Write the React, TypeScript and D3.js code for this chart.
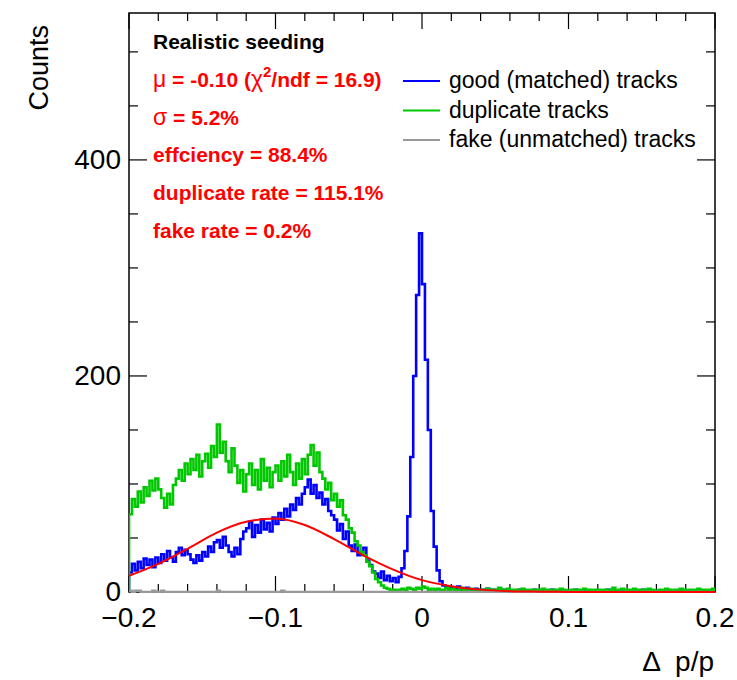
import React, { useEffect, useRef } from 'react';
import * as d3 from 'd3';

// histogram: 200 bins from -0.2 to 0.2
const xMin = -0.2;
const xMax = 0.2;
const nBins = 200;

const goodTracks = [
  18, 26, 20, 28, 22, 31, 25, 30, 23, 32,
  27, 35, 29, 38, 32, 28, 37, 41, 34, 39,
  35, 30, 27, 34, 29, 37, 33, 42, 37, 46,
  48, 41, 51, 43, 37, 33, 41, 35, 49, 56,
  59, 65, 51, 62, 55, 67, 58, 64, 56, 69,
  63, 73, 67, 77, 70, 81, 76, 87, 81, 91,
  97, 104, 91, 99, 87, 92, 81, 86, 75, 71,
  67, 57, 63, 49, 56, 43, 38, 44, 34, 37,
  41, 29, 25, 19, 17, 13, 19, 11, 15, 10,
  13, 9, 14, 22, 38, 70, 125, 200, 275, 332,
  285, 215, 150, 75, 42, 20, 10, 6, 5, 3,
  4, 3, 5, 2, 3, 4, 2, 1, 3, 2,
  1, 2, 3, 1, 2, 1, 0, 2, 1, 2,
  1, 0, 1, 2, 1, 1, 0, 1, 2, 1,
  0, 1, 1, 0, 2, 1, 0, 1, 0, 1,
  1, 0, 2, 1, 0, 1, 1, 0, 1, 0,
  0, 1, 0, 2, 1, 0, 1, 0, 1, 1,
  0, 1, 0, 1, 0, 2, 1, 0, 0, 1,
  1, 0, 1, 0, 1, 0, 0, 1, 2, 0,
  1, 0, 1, 0, 0, 1, 1, 0, 1, 0,
];

const duplicateTracks = [
  72, 86, 79, 93, 83, 97, 89, 103, 94, 105,
  95, 87, 78, 91, 81, 99, 105, 113, 103, 119,
  109, 123, 113, 127, 107, 121, 128, 115, 135, 125,
  155, 129, 139, 121, 111, 133, 117, 101, 113, 93,
  109, 119, 99, 113, 95, 123, 103, 115, 97, 111,
  117, 103, 121, 107, 127, 111, 99, 119, 105, 123,
  109, 127, 136, 117, 129, 111, 105, 95, 101, 85,
  91, 79, 85, 71, 67, 59, 55, 47, 43, 37,
  34, 28, 24, 18, 12, 9, 6, 4, 3, 2,
  2, 1, 2, 3, 2, 4, 3, 2, 4, 3,
  5, 4, 2, 3, 2, 3, 1, 2, 4, 2,
  3, 2, 1, 4, 2, 1, 3, 2, 1, 2,
  2, 1, 3, 2, 1, 2, 4, 2, 1, 3,
  1, 2, 2, 1, 3, 1, 2, 1, 2, 1,
  2, 3, 1, 2, 1, 2, 1, 3, 2, 1,
  1, 2, 1, 2, 1, 3, 1, 2, 1, 2,
  2, 1, 2, 1, 2, 4, 1, 2, 3, 1,
  2, 1, 3, 2, 1, 2, 1, 3, 2, 1,
  1, 2, 1, 3, 2, 1, 2, 1, 3, 2,
  1, 2, 1, 2, 3, 1, 2, 1, 2, 3,
];

const fakeTracks = [
  1, 0, 1, 1, 0, 0, 0, 0, 1, 0,
  0, 1, 0, 0, 0, 0, 0, 0, 0, 0,
  0, 0, 0, 0, 0, 0, 0, 0, 0, 0,
  1, 0, 0, 0, 0, 0, 0, 0, 0, 0,
  0, 0, 0, 0, 0, 0, 0, 0, 0, 0,
  0, 0, 1, 0, 0, 0, 0, 0, 0, 0,
  0, 0, 0, 0, 0, 0, 0, 0, 0, 0,
  0, 0, 0, 0, 0, 0, 0, 0, 0, 0,
  0, 0, 0, 0, 0, 0, 0, 0, 0, 0,
  0, 0, 0, 0, 0, 0, 0, 0, 0, 0,
  0, 0, 0, 0, 0, 0, 0, 0, 0, 0,
  0, 0, 0, 0, 0, 0, 0, 0, 0, 0,
  0, 0, 0, 0, 0, 0, 0, 0, 0, 0,
  0, 0, 0, 0, 0, 0, 0, 0, 0, 0,
  0, 0, 0, 0, 0, 0, 0, 0, 0, 0,
  0, 0, 0, 0, 0, 0, 0, 0, 0, 0,
  0, 0, 0, 0, 0, 0, 0, 0, 0, 0,
  0, 0, 0, 0, 0, 0, 0, 0, 0, 0,
  0, 0, 0, 0, 0, 0, 0, 0, 0, 0,
  0, 0, 0, 0, 0, 0, 0, 0, 0, 0,
];

// gaussian fit curve
const fitX = [-0.2, -0.18, -0.16, -0.14, -0.12, -0.1, -0.08, -0.06, -0.04, -0.02, 0,
  0.02, 0.04, 0.06, 0.08, 0.1, 0.12, 0.14, 0.16, 0.18, 0.2];
const fitY = [15, 26, 40, 55, 65, 68, 62, 49, 34, 21, 11,
  5.4, 2.2, 0.8, 0.3, 0.1, 0, 0, 0, 0, 0];

const xTicks = [-0.2, -0.1, 0, 0.1, 0.2];
const xTickLabels = ['\u22120.2', '\u22120.1', '0', '0.1', '0.2'];
const yTicks = [0, 200, 400];

const statLines = ['σ = 5.2%', 'effciency = 88.4%', 'duplicate rate = 115.1%', 'fake rate = 0.2%'];
const legendLabels = ['good (matched) tracks', 'duplicate tracks', 'fake (unmatched) tracks'];
const legendColors = ['#0000ff', '#00c800', '#999999'];

const W = 737;
const H = 680;
const FONT = '"Liberation Sans", Arial, Helvetica, sans-serif';

export default function App() {
  const ref = useRef<SVGSVGElement>(null);

  useEffect(() => {
    const svg = d3.select(ref.current);
    svg.selectAll('*').remove();

    const left = 129, right = 715, top = 13, bottom = 592;
    const x = d3.scaleLinear().domain([xMin, xMax]).range([left, right]);
    const y = d3.scaleLinear().domain([0, 536]).range([bottom, top]);
    const binW = (xMax - xMin) / nBins;

    svg.append('defs').append('clipPath').attr('id', 'frameClip')
      .append('rect').attr('x', left).attr('y', top - 2).attr('width', right - left).attr('height', bottom - top + 3);

    // frame
    svg.append('rect')
      .attr('x', left).attr('y', top)
      .attr('width', right - left).attr('height', bottom - top)
      .attr('fill', 'none').attr('stroke', '#000').attr('stroke-width', 1.5);

    // ticks
    const ticks = svg.append('g').attr('stroke', '#000').attr('stroke-width', 1.2);
    d3.range(0, 21).forEach(i => {
      const v = xMin + i * 0.02;
      const len = i % 5 === 0 ? 16 : 8;
      ticks.append('line').attr('x1', x(v)).attr('x2', x(v)).attr('y1', bottom).attr('y2', bottom - len);
      ticks.append('line').attr('x1', x(v)).attr('x2', x(v)).attr('y1', top).attr('y2', top + len);
    });
    d3.range(0, 536, 50).forEach(v => {
      const len = v % 200 === 0 ? 18 : 9;
      ticks.append('line').attr('y1', y(v)).attr('y2', y(v)).attr('x1', left).attr('x2', left + len);
      ticks.append('line').attr('y1', y(v)).attr('y2', y(v)).attr('x1', right).attr('x2', right - len);
    });

    // tick labels
    svg.append('g').selectAll('text').data(yTicks).join('text')
      .attr('x', 121).attr('y', d => y(d) + 9)
      .attr('text-anchor', 'end').attr('font-family', FONT).attr('font-size', 28)
      .text(d => String(d));
    svg.append('g').selectAll('text').data(xTicks).join('text')
      .attr('x', d => x(d)).attr('y', 627)
      .attr('text-anchor', 'middle').attr('font-family', FONT).attr('font-size', 28)
      .text((d, i) => xTickLabels[i]);

    // axis titles
    svg.append('text')
      .attr('transform', 'translate(48,25) rotate(-90)')
      .attr('text-anchor', 'end').attr('font-family', FONT).attr('font-size', 27)
      .text('Counts');
    const xt = svg.append('text')
      .attr('x', 714).attr('y', 671)
      .attr('text-anchor', 'end').attr('font-family', FONT).attr('font-size', 28);
    xt.append('tspan').text('Δ');
    xt.append('tspan').attr('dx', 14).text('p/p');

    // histograms
    const histLine = d3.line<[number, number]>()
      .x(d => x(d[0])).y(d => y(d[1]))
      .curve(d3.curveStepAfter);
    const histPoints = (vals: number[]): [number, number][] => {
      const pts: [number, number][] = [[xMin, 0]];
      vals.forEach((v, i) => pts.push([xMin + i * binW, v]));
      pts.push([xMax, vals[vals.length - 1]]);
      pts.push([xMax, 0]);
      return pts;
    };
    const plot = svg.append('g').attr('clip-path', 'url(#frameClip)');
    [goodTracks, duplicateTracks, fakeTracks].forEach((vals, i) => {
      plot.append('path')
        .attr('d', histLine(histPoints(vals)))
        .attr('fill', 'none')
        .attr('stroke', legendColors[i])
        .attr('stroke-width', 2.6);
    });

    // fit
    const fitLine = d3.line<number>()
      .x((d, i) => x(fitX[i])).y(d => y(d))
      .curve(d3.curveMonotoneX);
    plot.append('path')
      .attr('d', fitLine(fitY))
      .attr('fill', 'none').attr('stroke', '#ff0000').attr('stroke-width', 2);

    // stats text
    const st = svg.append('g').attr('font-family', FONT).attr('font-size', 21).attr('font-weight', 'bold');
    st.append('text').attr('x', 153).attr('y', 49).attr('fill', '#000').text('Realistic seeding');
    const mu = st.append('text').attr('x', 153).attr('y', 87).attr('fill', '#ff0000');
    mu.append('tspan').attr('font-weight', 'normal').attr('font-size', 23).text('μ');
    mu.append('tspan').text(' = -0.10 (');
    mu.append('tspan').attr('font-weight', 'normal').attr('font-size', 23).text('χ');
    mu.append('tspan').attr('font-size', 15).attr('dy', -10).text('2');
    mu.append('tspan').attr('dy', 10).text('/ndf = 16.9)');
    statLines.forEach((s, i) => {
      const t = st.append('text').attr('x', 153).attr('y', 124.5 + i * 37.7).attr('fill', '#ff0000');
      if (s.startsWith('σ')) {
        t.append('tspan').attr('font-weight', 'normal').attr('font-size', 23).text('σ');
        t.append('tspan').text(s.slice(1));
      } else {
        t.text(s);
      }
    });

    // legend
    const lg = svg.append('g');
    legendLabels.forEach((lab, i) => {
      const ly = 81 + i * 29.5;
      lg.append('line').attr('x1', 403).attr('x2', 440).attr('y1', ly).attr('y2', ly)
        .attr('stroke', legendColors[i]).attr('stroke-width', 2);
      lg.append('text').attr('x', 449).attr('y', ly + 7)
        .attr('font-family', FONT).attr('font-size', 23).attr('fill', '#000')
        .text(lab);
    });
  }, []);

  return (
    <svg ref={ref} width={W} height={H}
      style={{ position: 'absolute', left: 0, top: 0, background: '#fff' }} />
  );
}
